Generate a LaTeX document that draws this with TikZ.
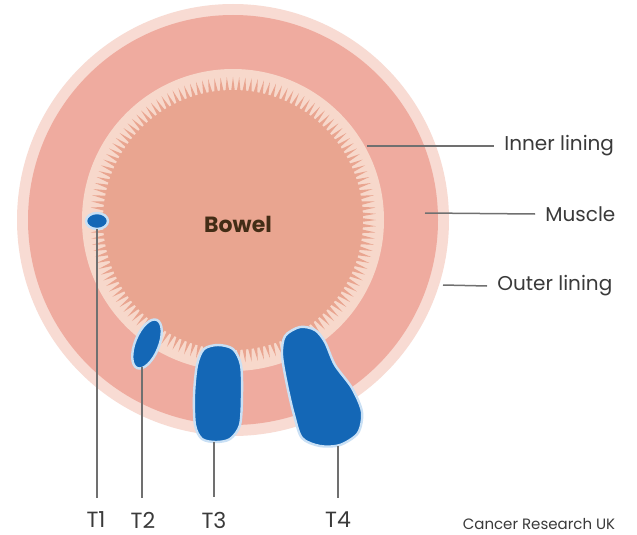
\documentclass[tikz,border=0pt]{standalone}
\usepackage{fontspec}
\setmainfont{Poppins}
\usetikzlibrary{shapes.geometric, positioning}
\definecolor{outerlin}{HTML}{F8DBD3}
\definecolor{musc}{HTML}{EFAB9F}
\definecolor{innerlin}{HTML}{F7D8CB}
\definecolor{bowelc}{HTML}{E9A590}
\definecolor{tum}{HTML}{1467B6}
\definecolor{halo}{HTML}{C9E0F5}
\definecolor{txt}{HTML}{3A3A3A}
\definecolor{leadc}{HTML}{707070}

\tikzset{
	tumour/.style={fill=tum, draw=halo, line width=1.2pt},
	leader/.style={draw=leadc, line width=0.75pt},
	lbl/.style={text=txt, font=\fontsize{10}{12}\selectfont, inner xsep=5pt, inner ysep=1pt},
	tlbl/.style={text=txt, font=\fontsize{11}{13}\selectfont, inner xsep=1pt, inner ysep=7pt},
}

\begin{document}
\begin{tikzpicture}[x=0.5pt, y=-0.5pt]
		\useasboundingbox (0,0) rectangle (637,535);
		\fill[white] (0,0) rectangle (637,535);

		\coordinate (c) at (233,220);
		\fill[outerlin] (c) circle (216);
		\fill[musc] (c) circle (205);
		\fill[innerlin] (c) circle (151);
		\fill[bowelc] (c) circle (130);
		\begin{scope}[shift={(c)}]
			\foreach \a in {0,2.5,...,357.5}
				\fill[bowelc] (\a-0.9:128) -- (\a:143) -- (\a+0.9:128) -- cycle;
		\end{scope}

		\node[text=black!65!brown, font=\fontsize{11}{13}\selectfont\bfseries] (bowel) at (238,224) {Bowel};

		% tumours
		\node[tumour, ellipse, minimum width=11pt, minimum height=8pt, inner sep=0pt] (t1) at (97,221) {};
		\node[tumour, ellipse, minimum width=12pt, minimum height=26pt, inner sep=0pt, rotate=-22] (t2) at (147,344) {};
		\draw[tumour] plot[smooth cycle] coordinates {(218,345) (233,349) (241,365) (242,395) (240,425) (230,439) (216,442) (202,439) (195,425) (194,395) (197,365) (204,349)};
		\draw[tumour] plot[smooth cycle] coordinates {(300,327) (315,330) (325,342) (335,365) (352,388) (362,412) (358,433) (340,445) (320,446) (302,438) (294,415) (287,385) (282,355) (285,336)};

		\coordinate (t1b) at (97,229);
		\coordinate (t2b) at (142,367);
		\coordinate (t3b) at (214,442);
		\coordinate (t4b) at (338,446);
		\coordinate (ilp) at (367,146);
		\coordinate (mup) at (425,213);
		\coordinate (olp) at (443,285);

		\draw (96,520) node[tlbl] (l1) {T1}
			(143,520) node[tlbl] (l2) {T2}
			(214,520) node[tlbl] (l3) {T3}
			(338,520) node[tlbl] (l4) {T4}
			(494,146) node[lbl, anchor=west] (il) {Inner lining}
			(535,214) node[lbl, anchor=west] (mu) {Muscle}
			(487,286) node[lbl, anchor=west] (ol) {Outer lining}
			(539,524) node[text=txt, font=\fontsize{7.5}{9}\selectfont] (cr) {Cancer Research UK};

		\draw[leader] (t1b) -- (t1b |- l1.north);
		\draw[leader] (t2b) -- (t2b |- l2.north);
		\draw[leader] (t3b) -- (t3b |- l3.north);
		\draw[leader] (t4b) -- (t4b |- l4.north);
		\draw[leader] (ilp) -- (il.west);
		\draw[leader] (mup) -- (mu.west);
		\draw[leader] (olp) -- (ol.west);
	\end{tikzpicture}
\end{document}
